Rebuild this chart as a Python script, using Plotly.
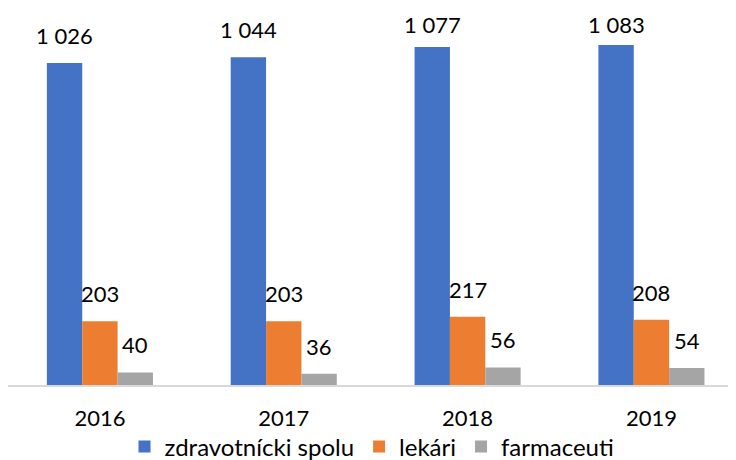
import plotly.graph_objects as go

years = ["2016", "2017", "2018", "2019"]
zdravotnicki = [1026, 1044, 1077, 1083]
lekari = [203, 203, 217, 208]
farmaceuti = [40, 36, 56, 54]

series = [
    ("zdravotnícki spolu", zdravotnicki, "#4472C4"),
    ("lekári", lekari, "#ED7D31"),
    ("farmaceuti", farmaceuti, "#A5A5A5"),
]

FONT = "Lato, 'Open Sans', sans-serif"

# page body has an 8px margin, so the figure is sized to fit the 736x460 window
W, H = 728, 452
T, B = 10, 75
YMAX = 1169
px_per_unit = (H - T - B) / YMAX

fig = go.Figure()
for name, vals, color in series:
    fig.add_trace(go.Bar(
        x=years, y=vals, name=name, marker=dict(color=color, line=dict(width=0)),
        hoverinfo="skip",
    ))

# data labels as annotations placed above each bar (kept inside the chart, like Excel)
n = len(series)
group = 1 - 0.423
bw = group / n
for i, (name, vals, color) in enumerate(series):
    off = -group / 2 + bw * (i + 0.5)
    for j, v in enumerate(vals):
        bar_top = H - B - v * px_per_unit
        shift = min(12, bar_top - 32)
        fig.add_annotation(
            x=j + off, y=v, xref="x", yref="y",
            text=f"{v:,}".replace(",", " "),
            showarrow=False, yanchor="bottom", yshift=shift,
            font=dict(family=FONT, size=22, color="#000000"),
        )

fig.update_layout(
    width=W, height=H,
    margin=dict(l=0, r=0, t=T, b=B, autoexpand=False),
    paper_bgcolor="white", plot_bgcolor="white",
    barmode="group", bargap=0.423, bargroupgap=0,
    font=dict(family=FONT, size=22, color="#000000"),
    showlegend=True,
    legend=dict(
        orientation="h", x=0.5, xanchor="center", xref="container",
        y=13 / H, yanchor="middle", yref="container",
        bgcolor="rgba(0,0,0,0)",
        font=dict(family=FONT, size=24, color="#000000"),
        itemwidth=30, traceorder="normal", tracegroupgap=0,
    ),
    xaxis=dict(
        type="category", range=[-0.5, 3.46], automargin=False,
        showline=True, linecolor="#D9D9D9", linewidth=1.5,
        ticks="", showgrid=False, zeroline=False, ticklabelstandoff=13,
        tickfont=dict(family=FONT, size=22, color="#000000"),
    ),
    yaxis=dict(
        range=[0, YMAX], visible=False, showgrid=False, zeroline=False,
        automargin=False,
    ),
)

fig.write_html("out.html")
